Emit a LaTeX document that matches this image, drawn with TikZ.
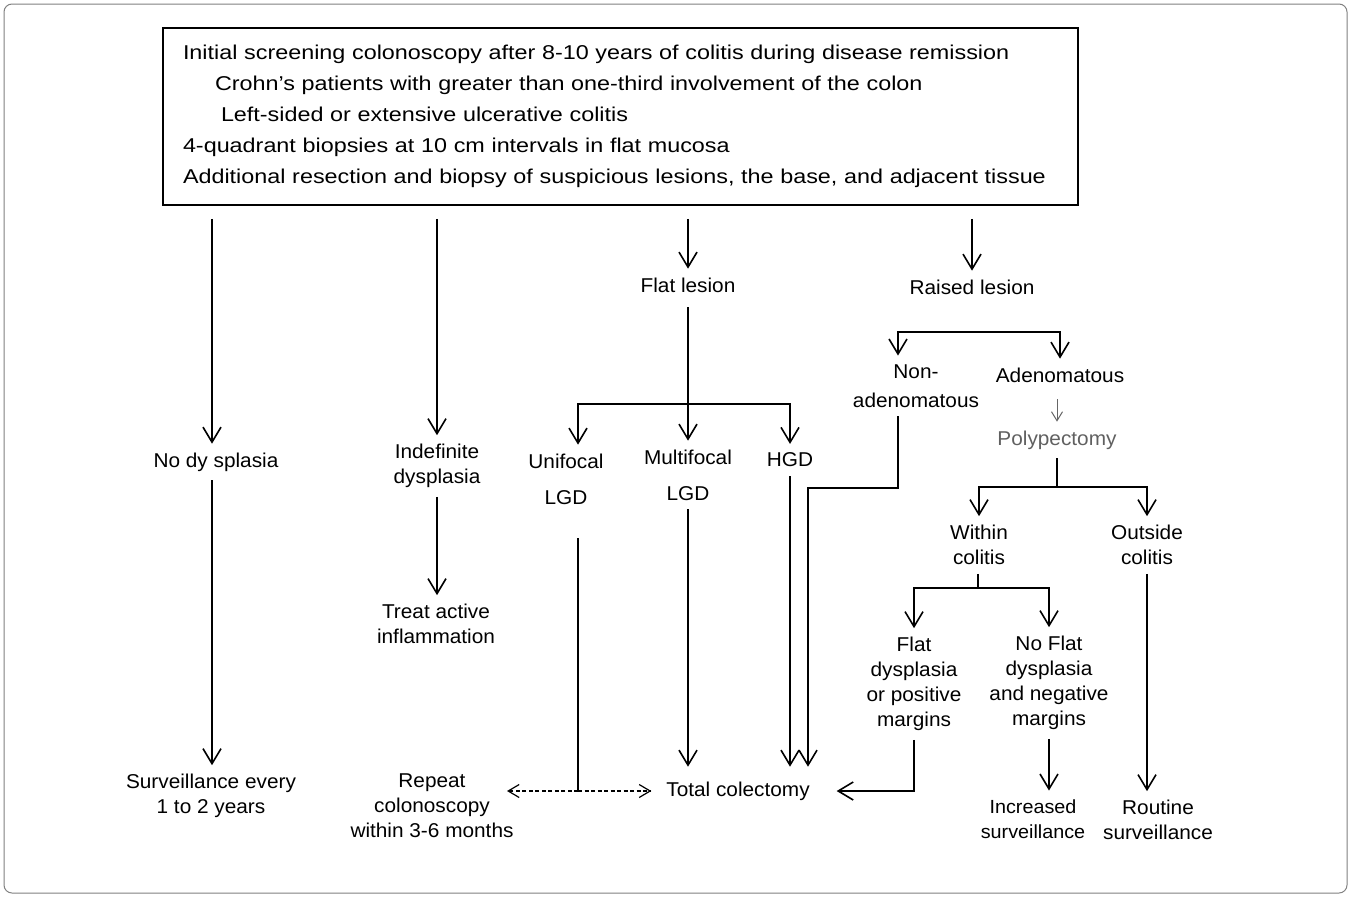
\documentclass[tikz,border=0pt]{standalone}
\usepackage{fontspec}
\setmainfont{Liberation Sans}[FakeStretch=1.04]
\newfontfamily\boxfont{Liberation Sans}[FakeStretch=1.168]
\usetikzlibrary{arrows.meta}
\tikzset{
 lbl/.style={align=center, inner sep=0pt, outer sep=9pt, font=\fontsize{20}{25}\selectfont},
 ln/.style={line width=1.6pt},
 arr/.style={ln, -{Straight Barb[length=15pt,width=18pt]}},
 twoarr/.style={ln, {Straight Barb[length=15pt,width=18pt]}-{Straight Barb[length=15pt,width=18pt]}},
 smallarr/.style={line width=1pt, gray!80!black, -{Straight Barb[length=9pt,width=11pt]}},
 dasharr/.style={line width=1.2pt, dash pattern=on 4pt off 2.5pt, -{Straight Barb[length=11pt,width=13pt]}},
}

\begin{document}
\begin{tikzpicture}[x=1pt, y=-1pt]
\useasboundingbox (0,0) rectangle (1351,897);
\draw[gray, line width=1pt, rounded corners=8pt] (4,4) rectangle (1347,893);
% top box
\node[draw, line width=1.6pt, minimum width=915pt, minimum height=177pt, text width=875pt,
  align=left, inner sep=0pt, font=\boxfont\fontsize{20}{31}\selectfont] (screen) at (620.5,116.5)
  {Initial screening colonoscopy after 8-10 years of colitis during disease remission\\
   \hspace*{32pt}Crohn’s patients with greater than one-third involvement of the colon\\
   \hspace*{38pt}Left-sided or extensive ulcerative colitis\\
   4-quadrant biopsies at 10 cm intervals in flat mucosa\\
   Additional resection and biopsy of suspicious lesions, the base, and adjacent tissue};
% labels
\node[lbl] (nodys) at (216,462) {No dy splasia};
\node[lbl] (indef) at (437,466) {Indefinite\\dysplasia};
\node[lbl] (flat) at (688,285) {Flat lesion};
\node[lbl] (raised) at (972,287) {Raised lesion};
\node[lbl] (unif) at (566,479) {Unifocal\\[11pt]LGD};
\node[lbl] (multi) at (688,475) {Multifocal\\[11pt]LGD};
\node[lbl] (hgd) at (790,460) {HGD};
\node[lbl] (nonad) at (916,386) {Non-\\[4pt]adenomatous};
\node[lbl] (adeno) at (1060,375) {Adenomatous};
\node[lbl, text=gray!75!black] (poly) at (1057,440) {Polypectomy};
\node[lbl] (within) at (979,545) {Within\\colitis};
\node[lbl] (outside) at (1147,545) {Outside\\colitis};
\node[lbl] (flatdys) at (914,684) {Flat\\dysplasia\\or positive\\margins};
\node[lbl] (noflat) at (1049,683) {No Flat\\dysplasia\\and negative\\margins};
\node[lbl] (treat) at (436,624) {Treat active\\inflammation};
\node[lbl] (surv) at (211,796) {Surveillance every\\1 to 2 years};
\node[lbl] (rep) at (432,806) {Repeat\\colonoscopy\\within 3-6 months};
\node[lbl, outer sep=15pt] (total) at (738,791) {Total colectomy};
\node[lbl, font=\fontsize{19}{25}\selectfont] (incr) at (1033,819) {Increased\\surveillance};
\node[lbl] (routine) at (1158,820) {Routine\\surveillance};
% bends and forks
\coordinate (ffork) at (688,404);
\coordinate (rfork) at (978,332);
\coordinate (nbend) at (808,488);
\coordinate (pfork) at (1057,487);
\coordinate (wfork) at (978,588);
\coordinate (utop) at ([xshift=12pt]unif.north);
\coordinate (ubot) at ([xshift=12pt]unif.south);
\coordinate (ntop) at ([xshift=-18pt]nonad.north);
\coordinate (nbot) at ([xshift=-18pt]nonad.south);
\coordinate (ujoin) at (ubot |- total);
\coordinate (rtip) at (507,791);
\coordinate (ltop) at ([xshift=-4pt]nodys.north);
\coordinate (lbot) at ([xshift=-4pt]nodys.south);
% from the box
\draw[arr, shorten <=13pt] (screen.south -| ltop) -- (ltop);
\foreach \n in {indef, flat, raised}
  \draw[arr, shorten <=13pt] (screen.south -| \n) -- (\n);
% left columns
\draw[arr] (lbot) -- (lbot |- surv.north);
\draw[arr] (indef) -- (indef |- treat.north);
% flat lesion
\draw[arr, shorten <=6pt] (flat) -- (multi);
\draw[twoarr] (utop) |- (ffork) -| (hgd);
\draw[arr] (multi) -- (multi |- total.north);
\draw[arr] (hgd) -- (hgd |- total.north);
\draw[ln, shorten <=25pt] (ubot) -- (ujoin);
\draw[dasharr] (ujoin) -- (rtip);
\draw[dasharr] (ujoin) -- (total);
% raised lesion
\draw[twoarr] (ntop) |- (rfork) -| (adeno);
\draw[arr] (nbot) |- (nbend) -- (nbend |- total.north);
\draw[smallarr, shorten <=8pt] (adeno.south -| poly) -- (poly);
\draw[ln] (poly) -- (pfork);
\draw[twoarr] (within) |- (pfork) -| (outside);
\draw[ln] (within.south -| wfork) -- (wfork);
\draw[twoarr] (flatdys) |- (wfork) -| (noflat);
\draw[arr, shorten >=12pt] (flatdys) |- (total);
\draw[arr] (noflat) -- (noflat |- incr.north);
\draw[arr] (outside) -- (outside |- routine.north);
\end{tikzpicture}
\end{document}
